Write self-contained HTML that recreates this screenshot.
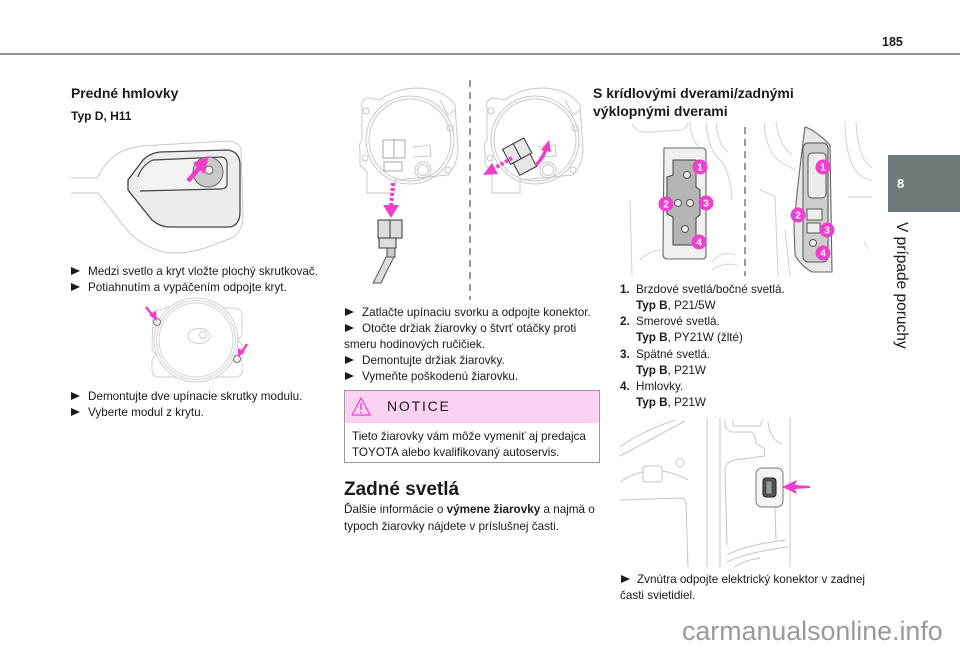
<!DOCTYPE html>
<html><head><meta charset="utf-8">
<style>
html,body{margin:0;padding:0;background:#fff;}
#pg{position:relative;width:960px;height:649px;overflow:hidden;background:#fff;font-family:"Liberation Sans",Arial,sans-serif;color:#1a1a1a;}
.t{position:absolute;white-space:nowrap;font-size:11.7px;line-height:16px;}
.tri{display:inline-block;width:0;height:0;border-left:9px solid #1a1a1a;border-top:4.5px solid transparent;border-bottom:4.5px solid transparent;margin-right:8px;vertical-align:0px;}
.h{position:absolute;white-space:nowrap;font-weight:bold;}
svg{position:absolute;left:0;top:0;}
</style></head><body>
<div id="pg">
<svg width="960" height="649" viewBox="0 0 960 649">
  <!-- header line -->
  <rect x="0" y="53" width="960" height="2" fill="#8e9696"/>
  <!-- side tab -->
  <rect x="888" y="155" width="72" height="57" fill="#6f7b7b"/>

  <!-- ===== Left fog light ===== -->
  <path d="M71,178 L97,178 C104,165 112,155 125,150 L140,146 L228,141 Q240,142 241,150 L243,215 Q243,232 232,238 L205,248 Q180,256 160,251 Q140,245 127,230 L98,193 L71,193" fill="none" stroke="#c8c8c8" stroke-width="1"/>
  <path d="M143,160 L128,180 L128,190 L152,220 Q160,227 170,227 L230,227 Q240,225 240,212 L240,165 Q240,152 228,150 L160,152 Q150,153 143,160 Z" fill="#ececec" stroke="#444" stroke-width="1.3"/>
  <path d="M138,177 Q142,165 153,160 L222,157 Q227,158 227,163 L227,184 Q227,189 220,189 L140,191" fill="#f2f2f2" stroke="#444" stroke-width="1.2"/>
  <circle cx="208" cy="172" r="15" fill="#c9c9c9" stroke="#666" stroke-width="1"/>
  <circle cx="209" cy="170" r="4" fill="#eee" stroke="#666" stroke-width="1"/>
  <line x1="188" y1="181" x2="201" y2="166" stroke="#f23ccc" stroke-width="4.5"/>
  <polygon points="209,156 193,163 204,174" fill="#f23ccc"/>

  <!-- ===== Left module ===== -->
  <path d="M153,312 L168,307 L235,308 Q242,309 242,316 L242,335 L238,340 L242,345 L242,370 Q242,377 235,377 L160,377 Q152,377 152,370 L152,360 L156,355 L152,350 Z" fill="none" stroke="#cfcfcf" stroke-width="1"/>
  <circle cx="196" cy="340" r="42" fill="#fff" stroke="#cfcfcf" stroke-width="1"/>
  <circle cx="196" cy="340" r="39.5" fill="none" stroke="#d4d4d4" stroke-width="1"/>
  <circle cx="196" cy="340" r="37" fill="none" stroke="#d4d4d4" stroke-width="1"/>
  <ellipse cx="199" cy="336" rx="11" ry="7.5" fill="none" stroke="#cfcfcf"/>
  <circle cx="203" cy="335" r="3.5" fill="none" stroke="#cfcfcf"/>
  <circle cx="157" cy="322" r="3.5" fill="#eee" stroke="#777"/>
  <circle cx="237" cy="359" r="3.5" fill="#eee" stroke="#777"/>
  <line x1="146" y1="307" x2="153" y2="316" stroke="#f23ccc" stroke-width="2.5"/>
  <polygon points="157,321 149,315 156,311" fill="#f23ccc"/>
  <line x1="247" y1="344" x2="242" y2="352" stroke="#f23ccc" stroke-width="2.5"/>
  <polygon points="238,357 238,348 245,352" fill="#f23ccc"/>

  <!-- ===== Middle bulbs ===== -->
  <line x1="470" y1="80" x2="470" y2="300" stroke="#999" stroke-width="2" stroke-dasharray="7,5"/>
  <g id="hous" fill="none" stroke="#c8c8c8" stroke-width="1">
    <path d="M362,108 Q360,100 368,98 L380,100 Q395,88 420,88 Q445,90 455,105 L458,150 Q457,165 448,175 L395,180 L395,193 L367,193 L367,172 L360,165 L360,150 Q358,145 362,140 Z"/>
    <circle cx="410" cy="140" r="44"/>
    <circle cx="410" cy="140" r="41"/>
    <circle cx="366" cy="111" r="3"/>
    <circle cx="450" cy="128" r="3"/>
    <circle cx="365" cy="158" r="3"/>
    <circle cx="448" cy="170" r="3"/>
    <circle cx="423" cy="170" r="8"/>
    <circle cx="423" cy="170" r="5.5"/>
    <path d="M413,147 L430,145 L431,156 L413,157"/>
    <path d="M440,100 L448,115 L455,110"/>
  </g>
  <!-- left connector on bulb -->
  <rect x="383" y="140" width="22" height="18" fill="#fff" stroke="#aaa"/>
  <line x1="394" y1="140" x2="394" y2="158" stroke="#aaa"/>
  <rect x="384" y="162" width="18" height="9" fill="#fff" stroke="#aaa"/>
  <!-- pink dashed arrow down -->
  <line x1="393" y1="183" x2="391" y2="207" stroke="#f23ccc" stroke-width="4" stroke-dasharray="3,2"/>
  <polygon points="383,205 399,205 391,218" fill="#f23ccc"/>
  <!-- detached connector -->
  <rect x="378" y="220" width="24" height="18" fill="#ddd" stroke="#333"/>
  <line x1="390" y1="220" x2="390" y2="238" stroke="#333"/>
  <rect x="379" y="238" width="17" height="10" fill="#ddd" stroke="#333"/>
  <rect x="387" y="248" width="8" height="9" fill="#ccc" stroke="#444"/>
  <path d="M386,257 Q381,268 373,283 L381,283 Q387,270 394,257 Z" fill="#ddd" stroke="#555"/>
  <!-- right housing -->
  <use href="#hous" transform="translate(125,0)"/>
  <g transform="rotate(-28 522 156)">
    <rect x="508" y="141" width="24" height="17" fill="#e6e6e6" stroke="#333"/>
    <line x1="520" y1="141" x2="520" y2="158" stroke="#333"/>
    <rect x="511" y="158" width="19" height="14" fill="#e6e6e6" stroke="#333"/>
  </g>
  <line x1="512" y1="158" x2="493" y2="169" stroke="#f23ccc" stroke-width="4" stroke-dasharray="3,2"/>
  <polygon points="483,175 492,163 498,174" fill="#f23ccc"/>
  <path d="M536,165 Q543,158 546,149" fill="none" stroke="#f23ccc" stroke-width="3.5"/>
  <polygon points="549,140 541,150 551,152" fill="#f23ccc"/>

  <!-- ===== Right lamps illustration ===== -->
  <line x1="745" y1="127" x2="745" y2="276" stroke="#999" stroke-width="2" stroke-dasharray="7,5"/>
  <g fill="none" stroke="#d2d2d2" stroke-width="1">
    <path d="M632,124 Q636,133 650,132 L680,130 Q688,128 688,122"/>
    <path d="M690,122 Q691,140 700,148 L706,152"/>
    <path d="M706,122 Q708,150 720,160 Q730,170 732,200"/>
    <path d="M716,122 Q718,145 728,152"/>
    <path d="M630,200 L632,276"/>
    <path d="M640,260 Q650,250 662,250"/>
    <path d="M712,262 Q722,250 735,255"/>
    <path d="M712,270 Q722,262 737,265"/>
    <path d="M764,122 Q766,150 778,160 Q790,168 796,170"/>
    <path d="M776,122 Q779,145 792,155"/>
    <path d="M760,190 L775,196 L778,276"/>
    <path d="M785,230 L790,276"/>
    <path d="M845,122 Q846,165 860,175 Q866,180 872,180"/>
    <path d="M856,122 Q858,160 872,168"/>
    <path d="M848,197 L872,197"/>
    <path d="M864,242 L868,249"/>
  </g>
  <!-- left lamp -->
  <path d="M664,148 L702,148 Q706,148 706,152 L706,255 Q706,259 702,259 L668,259 Q663,259 663,254 Z" fill="#f0f0f0" stroke="#666" stroke-width="1.1"/>
  <polygon points="673,160 696,160 696,187 700,190 700,215 696,218 696,245 673,245 673,217 667,214 667,177 673,175" fill="#b4b4b4" stroke="#444" stroke-width="1"/>
  <circle cx="687" cy="175" r="3.5" fill="#eee" stroke="#555"/>
  <circle cx="678" cy="203" r="3.5" fill="#eee" stroke="#555"/>
  <circle cx="690" cy="203" r="3.5" fill="#eee" stroke="#555"/>
  <circle cx="685" cy="229" r="3.5" fill="#eee" stroke="#555"/>
  <!-- right lamp -->
  <path d="M805,127 Q815,130 830,145 L832,272 L812,272 Q800,265 795,255 L794,225 Q798,180 805,127 Z" fill="#e8e8e8" stroke="#666" stroke-width="1.1"/>
  <rect x="803" y="143" width="25" height="119" rx="5" fill="#cdcdcd" stroke="#555"/>
  <rect x="808" y="153" width="18" height="45" rx="4" fill="#ececec" stroke="#555"/>
  <rect x="807" y="209" width="15" height="11" fill="#eee" stroke="#555"/>
  <rect x="807" y="223" width="13" height="10" fill="#eee" stroke="#555"/>
  <circle cx="813" cy="243" r="3.5" fill="#eee" stroke="#555"/>
  <!-- pink badges -->
  <g fill="#ee3fcf">
    <circle cx="700" cy="167" r="7.5"/><circle cx="666" cy="204" r="7.5"/>
    <circle cx="706" cy="203" r="7.5"/><circle cx="699" cy="242" r="7.5"/>
    <circle cx="823" cy="167" r="7.5"/><circle cx="798" cy="215" r="7.5"/>
    <circle cx="827" cy="230" r="7.5"/><circle cx="823" cy="253" r="7.5"/>
  </g>
  <g fill="#fff" font-family="Liberation Sans, Arial, sans-serif" font-weight="bold" font-size="10" text-anchor="middle">
    <text x="700" y="170.5">1</text><text x="666" y="207.5">2</text>
    <text x="706" y="206.5">3</text><text x="699" y="245.5">4</text>
    <text x="823" y="170.5">1</text><text x="798" y="218.5">2</text>
    <text x="827" y="233.5">3</text><text x="823" y="256.5">4</text>
  </g>

  <!-- ===== Bottom-right connector ===== -->
  <g fill="none" stroke="#c4c4c4" stroke-width="1">
    <line x1="707" y1="418" x2="707" y2="567"/>
    <line x1="720" y1="418" x2="720" y2="567"/>
    <line x1="790" y1="418" x2="790" y2="567"/>
    <path d="M620,447 Q640,432 675,420"/>
    <path d="M620,456 Q650,440 685,421"/>
    <path d="M620,482 Q652,460 688,480"/>
    <rect x="643" y="466" width="19" height="16" rx="3" fill="#fff"/>
    <circle cx="680" cy="463" r="4"/>
    <path d="M620,500 L680,498 Q686,498 686,504 L688,567"/>
    <path d="M725,420 Q724,430 732,432 L752,432 Q756,436 756,444 L764,448 L765,456 L735,460 Q725,462 725,470 L727,545"/>
    <path d="M733,420 L733,426 L760,426 L762,420"/>
    <path d="M768,422 Q770,440 782,444"/>
    <path d="M775,507 L776,540"/>
    <path d="M727,555 Q745,545 786,540"/>
    <path d="M727,562 Q748,552 788,547"/>
    <path d="M735,567 Q745,560 760,558"/>
  </g>
  <rect x="756" y="468" width="27" height="39" rx="6" fill="#f4f4f4" stroke="#777"/>
  <rect x="763" y="478" width="13" height="19" rx="3" fill="#555" stroke="#222"/>
  <rect x="766" y="481" width="6" height="13" fill="#999" stroke="#333" stroke-width="0.6"/>
  <polygon points="782,487 797,480 795,485 810,486 810,488 795,489 797,494" fill="#f23ccc"/>
</svg>

<!-- header -->
<div class="h" style="left:882px;top:35px;font-size:12.5px;line-height:15px;">185</div>
<div class="h" style="left:897px;top:176px;font-size:13px;line-height:16px;color:#fff;">8</div>
<div style="position:absolute;left:892px;top:222px;writing-mode:vertical-rl;font-size:15.5px;line-height:18px;white-space:nowrap;color:#1a1a1a;">V prípade poruchy</div>

<!-- left column -->
<div class="h" style="left:71px;top:85px;font-size:13.9px;line-height:16px;">Predné hmlovky</div>
<div class="h" style="left:71px;top:109px;font-size:12px;line-height:14px;">Typ D, H11</div>
<div class="t" style="left:71px;top:264px;"><span class="tri"></span>Medzi svetlo a kryt vložte plochý skrutkovač.</div>
<div class="t" style="left:71px;top:280px;"><span class="tri"></span>Potiahnutím a vypáčením odpojte kryt.</div>
<div class="t" style="left:71px;top:389px;"><span class="tri"></span>Demontujte dve upínacie skrutky modulu.</div>
<div class="t" style="left:71px;top:405px;"><span class="tri"></span>Vyberte modul z krytu.</div>

<!-- middle column -->
<div class="t" style="left:345px;top:305px;"><span class="tri"></span>Zatlačte upínaciu svorku a odpojte konektor.</div>
<div class="t" style="left:345px;top:321px;"><span class="tri"></span>Otočte držiak žiarovky o štvrť otáčky proti</div>
<div class="t" style="left:344px;top:337px;">smeru hodinových ručičiek.</div>
<div class="t" style="left:345px;top:353px;"><span class="tri"></span>Demontujte držiak žiarovky.</div>
<div class="t" style="left:345px;top:369px;"><span class="tri"></span>Vymeňte poškodenú žiarovku.</div>

<div style="position:absolute;left:344px;top:390px;width:254px;height:71px;border:1px solid #9a9a9a;background:#fff;"></div>
<div style="position:absolute;left:345px;top:391px;width:254px;height:32px;background:#fbd2f1;"></div>
<svg width="960" height="649" style="pointer-events:none">
  <polygon points="361,398 352,415 370,415" fill="none" stroke="#ee3fcf" stroke-width="1.2"/>
  <line x1="361" y1="403" x2="361" y2="410" stroke="#ee3fcf" stroke-width="1.4"/>
  <circle cx="361" cy="412.5" r="0.9" fill="#ee3fcf"/>
</svg>
<div style="position:absolute;left:387px;top:397px;font-size:14px;line-height:18px;letter-spacing:1.8px;white-space:nowrap;">NOTICE</div>
<div class="t" style="left:352px;top:429px;">Tieto žiarovky vám môže vymeniť aj predajca</div>
<div class="t" style="left:352px;top:445px;">TOYOTA alebo kvalifikovaný autoservis.</div>

<div class="h" style="left:344px;top:478px;font-size:19px;line-height:24px;">Zadné svetlá</div>
<div class="t" style="left:344px;top:502px;">Ďalšie informácie o <b>výmene žiarovky</b> a najmä o</div>
<div class="t" style="left:344px;top:519px;">typoch žiarovky nájdete v príslušnej časti.</div>

<!-- right column -->
<div class="h" style="left:593px;top:85px;font-size:14px;line-height:16px;">S krídlovými dverami/zadnými</div>
<div class="h" style="left:593px;top:103px;font-size:14px;line-height:16px;">výklopnými dverami</div>

<div class="t" style="left:620px;top:282px;"><b>1.</b></div>
<div class="t" style="left:636px;top:282px;">Brzdové svetlá/bočné svetlá.</div>
<div class="t" style="left:636px;top:298px;"><b>Typ B</b>, P21/5W</div>
<div class="t" style="left:620px;top:314px;"><b>2.</b></div>
<div class="t" style="left:636px;top:314px;">Smerové svetlá.</div>
<div class="t" style="left:636px;top:330px;"><b>Typ B</b>, PY21W (žlté)</div>
<div class="t" style="left:620px;top:347px;"><b>3.</b></div>
<div class="t" style="left:636px;top:347px;">Spätné svetlá.</div>
<div class="t" style="left:636px;top:363px;"><b>Typ B</b>, P21W</div>
<div class="t" style="left:620px;top:379px;"><b>4.</b></div>
<div class="t" style="left:636px;top:379px;">Hmlovky.</div>
<div class="t" style="left:636px;top:395px;"><b>Typ B</b>, P21W</div>

<div class="t" style="left:621px;top:572px;"><span class="tri" style="margin-right:7px"></span>Zvnútra odpojte elektrický konektor v zadnej</div>
<div class="t" style="left:620px;top:588px;">časti svietidiel.</div>

<!-- watermark -->
<div style="position:absolute;left:682px;top:615px;font-size:26.8px;line-height:32px;color:#9a9a9a;white-space:nowrap;">carmanualsonline.info</div>
</div>
</body></html>
